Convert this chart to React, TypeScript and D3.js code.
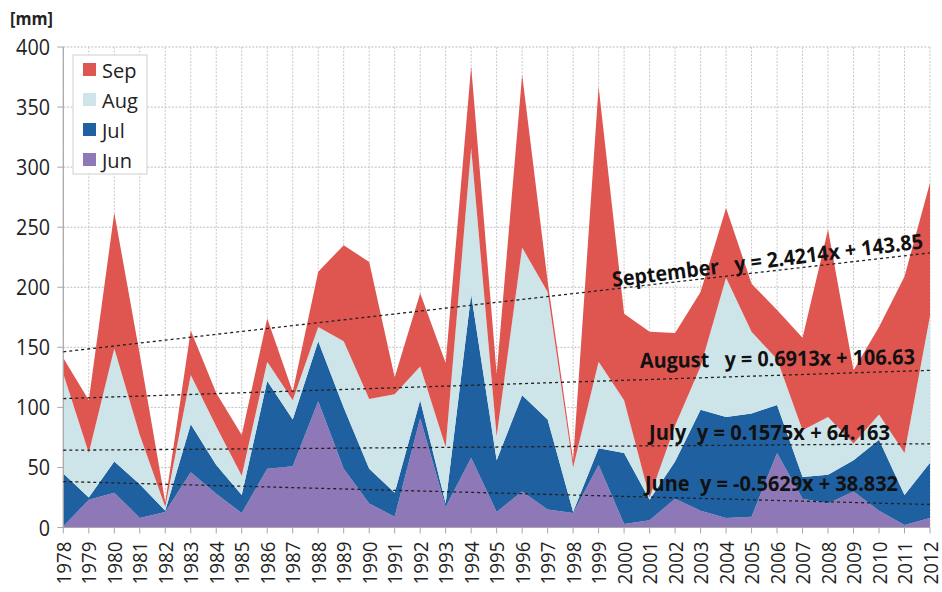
import React from "react";
import * as d3 from "d3";

const years = [
  "1978","1979","1980","1981","1982","1983","1984","1985","1986","1987",
  "1988","1989","1990","1991","1992","1993","1994","1995","1996","1997",
  "1998","1999","2000","2001","2002","2003","2004","2005","2006","2007",
  "2008","2009","2010","2011","2012",
];
const jun = [1,23,29,8,13,46,28,12,49,51,105,49,20,9,91,17,58,13,30,15,12,52,3,6,24,14,8,9,62,24,20,30,14,2,8];
const jul = [44,2,26,28,1,40,24,15,73,39,50,51,29,20,15,3,136,43,80,75,1,14,59,17,31,84,84,86,40,18,24,26,59,25,46];
const aug = [83,37,94,41,3,41,32,16,16,16,12,55,58,82,28,47,122,20,123,106,37,72,44,2,30,36,116,68,38,39,48,14,21,35,122];
const sep = [13,44,113,67,4,37,28,34,36,7,46,80,114,14,61,70,68,52,144,9,6,229,72,138,77,62,58,40,41,77,156,61,73,147,111];

const seriesKeys = ["Jun", "Jul", "Aug", "Sep"];
const legendOrder = ["Sep", "Aug", "Jul", "Jun"];
const yTicks = [0, 50, 100, 150, 200, 250, 300, 350, 400];

const trendNames = ["September", "August", "July", "June"];
const trendSlopes = [2.4214, 0.6913, 0.1575, -0.5629];
const trendIntercepts = [143.85, 106.63, 64.163, 38.832];
const trendLabels = [
  "September   y = 2.4214x + 143.85",
  "August   y = 0.6913x + 106.63",
  "July  y = 0.1575x + 64.163",
  "June  y = -0.5629x + 38.832",
];

const colors: Record<string, string> = {
  Sep: "#DF5651",
  Aug: "#CDE4E9",
  Jul: "#1F60A0",
  Jun: "#8F78B8",
};

const W = 942, H = 592;
const left = 63.3, right = 930, top = 47, bottom = 527.5;

export default function App() {
  const rows = years.map((y, i) => ({ year: y, Jun: jun[i], Jul: jul[i], Aug: aug[i], Sep: sep[i] }));
  const x = d3.scalePoint<string>().domain(years).range([left, right]);
  const y = d3.scaleLinear().domain([0, 400]).range([bottom, top]);
  const stack = d3.stack<any>().keys(seriesKeys);
  const layers = stack(rows);
  const area = d3
    .area<any>()
    .x((d) => x(d.data.year) as number)
    .y0((d) => y(d[0]))
    .y1((d) => y(d[1]));

  const font = "'Open Sans', 'Liberation Sans', sans-serif";

  // trend label layout (start x, baseline y, rotation, length)
  const labelPos = [
    { x: 613, y: 287, r: -7.1, len: 313 },
    { x: 640, y: 368, r: -0.8, len: 275 },
    { x: 649, y: 440, r: 0, len: 241 },
    { x: 645, y: 491, r: 0, len: 253 },
  ];

  return (
    <svg
      width={W}
      height={H}
      style={{ position: "absolute", left: 0, top: 0, background: "#fff" }}
      fontFamily={font}
    >
      <rect x={0} y={0} width={W} height={H} fill="#fff" />
      {/* grid */}
      {yTicks.map((t) => (
        <line key={"gy" + t} x1={left} x2={right} y1={y(t)} y2={y(t)} stroke="#bdbdbd" strokeWidth={1} strokeDasharray="2,1.5" />
      ))}
      {years.map((yr) => (
        <line key={"gx" + yr} x1={x(yr)} x2={x(yr)} y1={top} y2={bottom} stroke="#c8c8c8" strokeWidth={1} strokeDasharray="2,1.5" />
      ))}
      {/* areas */}
      {layers.map((layer) => (
        <path key={layer.key} d={area(layer) as string} fill={colors[layer.key]} />
      ))}
      {/* axes */}
      <line x1={left} x2={left} y1={top} y2={bottom} stroke="#a8a8a8" strokeWidth={1.2} />
      <line x1={left} x2={right} y1={bottom} y2={bottom} stroke="#a8a8a8" strokeWidth={1.2} />
      {yTicks.map((t) => (
        <g key={"yt" + t}>
          <line x1={left - 6} x2={left} y1={y(t)} y2={y(t)} stroke="#a8a8a8" />
          <text
            x={50}
            y={y(t)}
            textAnchor="end"
            dominantBaseline="central"
            fontSize={21}
            fill="#222"
            textLength={String(t).length * 11.3}
            lengthAdjust="spacingAndGlyphs"
          >
            {t}
          </text>
        </g>
      ))}
      {years.map((yr) => (
        <g key={"xt" + yr}>
          <line x1={x(yr)} x2={x(yr)} y1={bottom} y2={bottom + 6} stroke="#a8a8a8" />
          <text
            transform={`translate(${x(yr)},${bottom + 14}) rotate(-90)`}
            textAnchor="end"
            dominantBaseline="central"
            fontSize={20}
            fill="#222"
            textLength={43}
            lengthAdjust="spacingAndGlyphs"
          >
            {yr}
          </text>
        </g>
      ))}
      {/* trend lines */}
      {trendNames.map((n, i) => {
        const x1 = 1, x2 = years.length;
        const v1 = trendSlopes[i] * x1 + trendIntercepts[i];
        const v2 = trendSlopes[i] * x2 + trendIntercepts[i];
        return (
          <line
            key={"tr" + n}
            x1={x(years[0])}
            x2={x(years[years.length - 1])}
            y1={y(v1)}
            y2={y(v2)}
            stroke="#222"
            strokeWidth={1.3}
            strokeDasharray="3,3"
          />
        );
      })}
      {trendLabels.map((lab, i) => (
        <text
          key={"tl" + i}
          transform={`translate(${labelPos[i].x},${labelPos[i].y}) rotate(${labelPos[i].r})`}
          fontSize={21}
          fontWeight="bold"
          fill="#111"
          textLength={labelPos[i].len}
          lengthAdjust="spacingAndGlyphs"
          style={{ whiteSpace: "pre" }}
        >
          {lab}
        </text>
      ))}
      {/* legend */}
      <rect x={73} y={55} width={74} height={119} fill="#fff" stroke="#cfcfcf" strokeWidth={1} />
      {legendOrder.map((k, i) => (
        <g key={"lg" + k}>
          <rect x={83} y={63 + i * 30} width={13} height={13} fill={colors[k]} />
          <text x={102} y={70 + i * 30} dominantBaseline="central" fontSize={20} fill="#222">
            {k}
          </text>
        </g>
      ))}
      {/* unit */}
      <text x={10} y={25} fontSize={17} fontWeight="bold" fill="#222" textLength={43} lengthAdjust="spacingAndGlyphs">
        [mm]
      </text>
    </svg>
  );
}
